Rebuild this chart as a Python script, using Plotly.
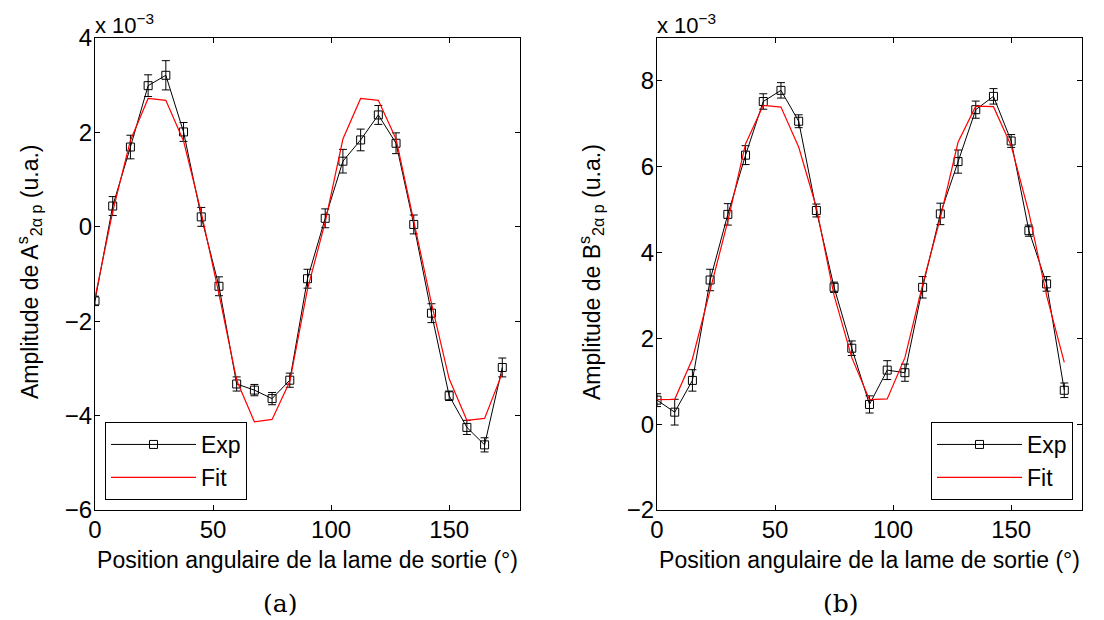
import plotly.graph_objects as go

theta = [0, 7.5, 15, 22.5, 30, 37.5, 45, 52.5, 60, 67.5, 75, 82.5,
         90, 97.5, 105, 112.5, 120, 127.5, 135, 142.5, 150, 157.5, 165, 172.5]

a_exp = [-1.57, 0.44, 1.69, 2.99, 3.21, 2.01, 0.21, -1.26, -3.33, -3.46, -3.64, -3.25,
         -1.10, 0.18, 1.39, 1.84, 2.37, 1.77, 0.05, -1.83, -3.58, -4.25, -4.62, -2.98]
a_err = [0.10, 0.20, 0.25, 0.23, 0.31, 0.20, 0.20, 0.20, 0.15, 0.12, 0.13, 0.15,
         0.20, 0.20, 0.25, 0.23, 0.20, 0.22, 0.20, 0.20, 0.10, 0.15, 0.15, 0.20]
a_fit = [-1.50, 0.32, 1.83, 2.72, 2.68, 1.82, 0.30, -1.42, -3.25, -4.13, -4.08, -3.28,
         -1.32, 0.10, 1.86, 2.72, 2.68, 1.86, 0.12, -1.62, -3.22, -4.10, -4.06, -3.10]

b_exp = [0.56, 0.28, 1.02, 3.36, 4.89, 6.27, 7.52, 7.78, 7.06, 4.98, 3.19, 1.77,
         0.46, 1.26, 1.20, 3.19, 4.90, 6.12, 7.33, 7.64, 6.60, 4.51, 3.27, 0.79]
b_err = [0.15, 0.30, 0.25, 0.25, 0.25, 0.22, 0.18, 0.18, 0.15, 0.15, 0.12, 0.17,
         0.20, 0.22, 0.20, 0.25, 0.25, 0.27, 0.20, 0.18, 0.15, 0.13, 0.17, 0.17]
b_fit = [0.57, 0.58, 1.52, 3.16, 4.73, 6.53, 7.43, 7.39, 6.46, 5.05, 3.00, 1.55,
         0.57, 0.59, 1.55, 3.25, 4.81, 6.57, 7.41, 7.40, 6.49, 4.93, 3.00, 1.44]

x_ticks = [0, 50, 100, 150]
a_ticks = [-6, -4, -2, 0, 2, 4]
b_ticks = [-2, 0, 2, 4, 6, 8]

FONT = "Liberation Sans, Arial, sans-serif"
SERIF = "DejaVu Serif, Liberation Serif, serif"
FS = 23
TFS = 24

# page body has an 8px margin at top-left
OFF = 8
W, H = 1104 - OFF, 620 - OFF


def px(x):
    return (x - OFF) / W


def py(y):
    return 1 - (y - OFF) / H


fig = go.Figure()

fig.add_trace(go.Scatter(
    x=theta, y=a_exp, mode="lines+markers", name="Exp",
    line=dict(color="black", width=1),
    marker=dict(symbol="square-open", size=8, color="black", line=dict(width=1)),
    error_y=dict(type="data", array=a_err, color="black", thickness=1, width=4),
    xaxis="x", yaxis="y", legend="legend"))
fig.add_trace(go.Scatter(
    x=theta, y=a_fit, mode="lines", name="Fit",
    line=dict(color="red", width=1.2),
    xaxis="x", yaxis="y", legend="legend"))

fig.add_trace(go.Scatter(
    x=theta, y=b_exp, mode="lines+markers", name="Exp",
    line=dict(color="black", width=1),
    marker=dict(symbol="square-open", size=8, color="black", line=dict(width=1)),
    error_y=dict(type="data", array=b_err, color="black", thickness=1, width=4),
    xaxis="x2", yaxis="y2", legend="legend2"))
fig.add_trace(go.Scatter(
    x=theta, y=b_fit, mode="lines", name="Fit",
    line=dict(color="red", width=1.2),
    xaxis="x2", yaxis="y2", legend="legend2"))

ydom = [py(510), py(38)]
axis_common = dict(showgrid=False, zeroline=False, showline=True, linecolor="black",
                   linewidth=1, mirror="ticks", ticks="inside", ticklen=5,
                   tickcolor="black", automargin=False,
                   tickfont=dict(family=FONT, size=TFS, color="black"))

xtitle = dict(text="Position angulaire de la lame de sortie (°)",
              font=dict(family=FONT, size=FS), standoff=10)

fig.update_layout(
    width=W, height=H,
    margin=dict(l=0, r=0, t=0, b=0, autoexpand=False),
    paper_bgcolor="white", plot_bgcolor="white",
    font=dict(family=FONT, size=FS, color="black"),
    showlegend=True,
    xaxis=dict(domain=[px(95), px(520)], range=[0, 180], tickvals=x_ticks,
               anchor="y", title=xtitle, ticklabelstandoff=-2, **axis_common),
    yaxis=dict(domain=ydom, range=[-6, 4], tickvals=a_ticks, anchor="x",
               ticklabelstandoff=-3, **axis_common),
    xaxis2=dict(domain=[px(657), px(1082)], range=[0, 180], tickvals=x_ticks,
                anchor="y2", title=xtitle, ticklabelstandoff=-2, **axis_common),
    yaxis2=dict(domain=ydom, range=[-2, 9], tickvals=b_ticks, anchor="x2",
                ticklabelstandoff=-3, **axis_common),
    legend=dict(x=px(105), y=py(461), xanchor="left", yanchor="middle",
                bgcolor="white", bordercolor="black", borderwidth=1, itemwidth=85,
                font=dict(family=FONT, size=FS)),
    legend2=dict(x=px(1073), y=py(461), xanchor="right", yanchor="middle",
                 bgcolor="white", bordercolor="black", borderwidth=1, itemwidth=85,
                 font=dict(family=FONT, size=FS)),
    annotations=[
        dict(text="Amplitude de A<sup>s</sup><sub>2α p</sub> (u.a.)", textangle=-90,
             x=px(29), y=py(272), xref="paper", yref="paper",
             xanchor="center", yanchor="middle", showarrow=False, font=dict(family=FONT, size=FS)),
        dict(text="Amplitude de B<sup>s</sup><sub>2α p</sub> (u.a.)", textangle=-90,
             x=px(591), y=py(272), xref="paper", yref="paper",
             xanchor="center", yanchor="middle", showarrow=False, font=dict(family=FONT, size=FS)),
        dict(text="x 10<sup>−3</sup>", x=px(93), y=1, xref="paper", yref="paper",
             xanchor="left", yanchor="top", showarrow=False, font=dict(family=FONT, size=22)),
        dict(text="x 10<sup>−3</sup>", x=px(655), y=1, xref="paper", yref="paper",
             xanchor="left", yanchor="top", showarrow=False, font=dict(family=FONT, size=22)),
        dict(text="(a)", x=px(280), y=py(603), xref="paper", yref="paper",
             xanchor="center", yanchor="middle", showarrow=False, font=dict(family=SERIF, size=25)),
        dict(text="(b)", x=px(841), y=py(603), xref="paper", yref="paper",
             xanchor="center", yanchor="middle", showarrow=False, font=dict(family=SERIF, size=25)),
    ],
)

fig.write_html("out.html")
